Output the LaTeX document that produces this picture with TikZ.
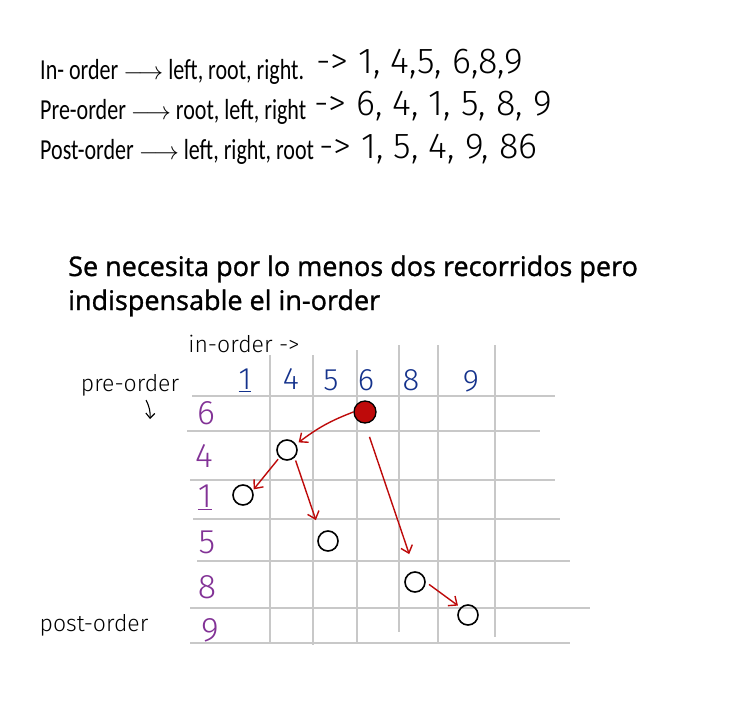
\documentclass[tikz,border=0pt]{standalone}
\usepackage{fontspec}
\setmainfont{Carlito}
\newfontfamily\condfont[FakeStretch=0.76]{Carlito}
\newfontfamily\handfont{Fira Sans Light}
\newfontfamily\notefont[FakeBold=1.1]{Open Sans}
\usetikzlibrary{arrows.meta}
\definecolor{gridgray}{RGB}{200,200,200}
\definecolor{colblue}{RGB}{20,50,140}
\definecolor{rowpurple}{RGB}{130,50,150}
\definecolor{arrowred}{RGB}{190,10,10}
\tikzset{
  topline/.style={anchor=base west, inner sep=0pt, font=\condfont\fontsize{29}{32}\selectfont},
  handnum/.style={anchor=base west, inner sep=0pt, font=\handfont\fontsize{36}{40}\selectfont},
  note/.style={anchor=base west, inner sep=0pt, font=\notefont\fontsize{27}{32}\selectfont},
  gridline/.style={draw=gridgray, line width=1.8pt},
  colnum/.style={text=colblue, inner sep=0pt, font=\handfont\fontsize{31}{33}\selectfont},
  rownum/.style={text=rowpurple, inner sep=0pt, font=\handfont\fontsize{34}{36}\selectfont},
  handlabel/.style={inner sep=0pt, font=\handfont\fontsize{23}{25}\selectfont},
  visit/.style={circle, draw=black, line width=1.6pt, minimum size=20pt, inner sep=0pt},
  rootvisit/.style={circle, draw=black, fill=arrowred, line width=1.3pt, minimum size=22pt, inner sep=0pt},
  redarrow/.style={draw=arrowred, line width=1.4pt, -{Straight Barb[length=7pt,width=12pt]}},
}
\begin{document}
\begin{tikzpicture}[x=1pt,y=-1pt]
\useasboundingbox[fill=white] (0,0) rectangle (746,706);
% top lines
\node[topline] (l1) at (40,80) {In- order $\longrightarrow$ left, root, right.};
\node[handnum] (h1) at (316,74) {-> 1, 4,5, 6,8,9};
\node[topline] (l2) at (40,119) {Pre-order $\longrightarrow$ root, left, right};
\node[handnum] (h2) at (314,116) {-> 6, 4, 1, 5, 8, 9};
\node[topline] (l3) at (40,159) {Post-order $\longrightarrow$ left, right, root};
\node[handnum] (h3) at (319,158) {-> 1, 5, 4, 9, 86};
% note
\node[note] (n1l) at (68,276) {Se necesita por lo menos dos recorridos pero};
\node[note] (n2l) at (68,310) {indispensable el in-order};
% grid
\foreach \x/\ya/\yb in {270/355/643, 313/355/645, 357/350/643, 399/345/632, 438/345/643, 495/345/637}
  \draw[gridline] (\x,\ya) -- (\x,\yb);
\foreach \y/\xa/\xb in {396/192/555, 431/187/540, 480/190/555, 519/193/560, 561/197/570, 608/190/590, 643/190/570}
  \draw[gridline] (\xa,\y) -- (\xb,\y);
% column headers
\node[colnum] (c1) at (245,380) {\underline{1}};
\node[colnum] (c4) at (291,379) {4};
\node[colnum] (c5) at (331,380) {5};
\node[colnum] (c6) at (366,380) {6};
\node[colnum] (c8) at (411,380) {8};
\node[colnum] (c9) at (471,381) {9};
% row labels
\node[rownum] (r6) at (206,413) {6};
\node[rownum] (r4) at (204,456) {4};
\node[rownum] (r1) at (205,497) {\underline{1}};
\node[rownum] (r5) at (207,542) {5};
\node[rownum] (r8) at (207,587) {8};
\node[rownum] (r9) at (210,630) {9};
% handwritten labels
\node[handlabel] (lin) at (244,344) {in-order ->};
\node[handlabel] (lpre) at (130,385) {pre-order};
\node[handlabel] (lpost) at (94,625) {post-order};
\coordinate (pa) at (146,400);
\coordinate (pb) at (150,419);
\draw[line width=1.1pt, -{Straight Barb[length=5pt,width=9pt]}] (pa) to[bend left=15] (pb);
% visited cells
\node[rootvisit] (v6) at (365,412) {};
\node[visit] (v4) at (287,450) {};
\node[visit] (v1) at (243,495) {};
\node[visit] (v5) at (328,541) {};
\node[visit] (v8) at (415,582) {};
\node[visit] (v9) at (468,615) {};
% arrows
\draw[redarrow] (v6.west) to[bend right=8] ([xshift=4pt]v4.north east);
\draw[redarrow, shorten <=2pt] (v4.south west) to ([shift={(3pt,-2pt)}]v1.north east);
\draw[redarrow, shorten <=3pt, shorten >=14pt] (v4.south east) to (v5.north west);
\draw[redarrow, shorten <=14pt, shorten >=18pt] (v6.south) to (v8.north);
\draw[redarrow, shorten <=4pt, shorten >=3pt] (v8.east) to (v9.north west);
\end{tikzpicture}
\end{document}
